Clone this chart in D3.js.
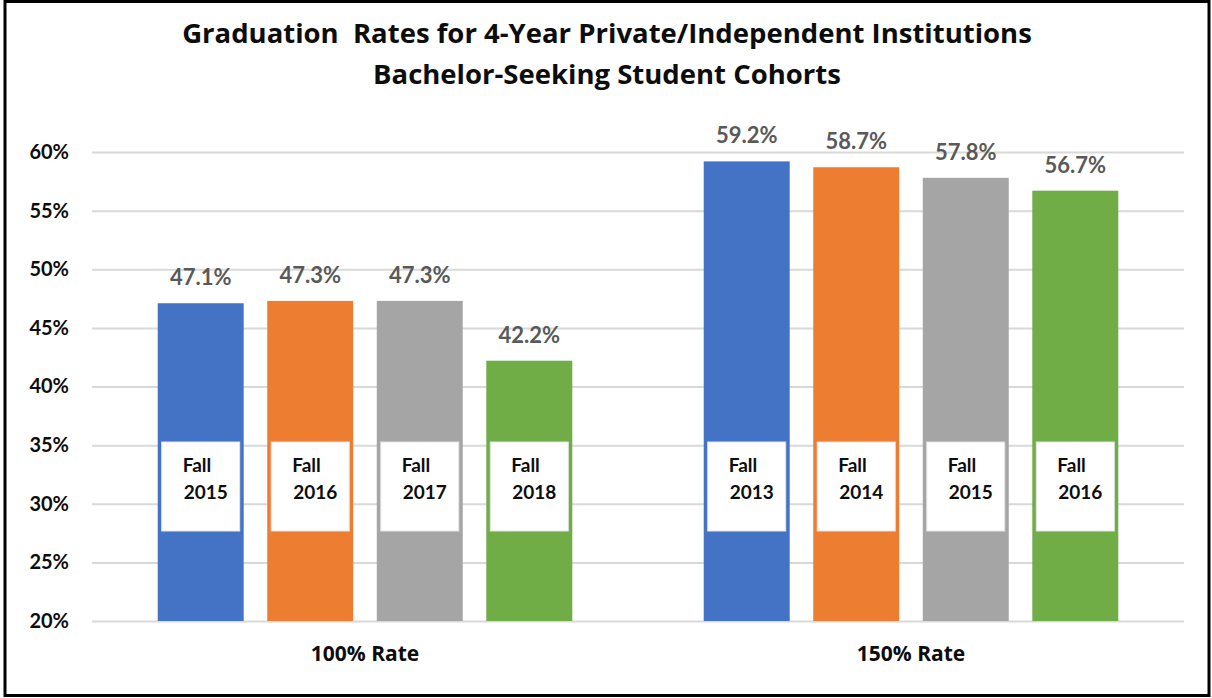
<!DOCTYPE html>
<html>
<head>
<meta charset="utf-8">
<script src="https://cdn.jsdelivr.net/npm/d3@7"></script>
<style>
  body { margin: 0; background: #fff; }
  svg { display: block; font-family: Lato, "Open Sans", sans-serif; }
  .title { white-space: pre; }
</style>
</head>
<body>
<svg id="chart" width="1212" height="698"></svg>
<script>
// data
let groups = ['100% Rate', '150% Rate'];
let cohorts100 = ['Fall 2015', 'Fall 2016', 'Fall 2017', 'Fall 2018'];
let values100 = [47.1, 47.3, 47.3, 42.2];
let cohorts150 = ['Fall 2013', 'Fall 2014', 'Fall 2015', 'Fall 2016'];
let values150 = [59.2, 58.7, 57.8, 56.7];
let yTicks = [20, 25, 30, 35, 40, 45, 50, 55, 60];
let colors = ['#4472C4', '#ED7D31', '#A5A5A5', '#70AD47'];

let rows = [
  { group: groups[0], cohorts: cohorts100, values: values100 },
  { group: groups[1], cohorts: cohorts150, values: values150 }
];

let svg = d3.select('#chart');
let plotLeft = 92, plotRight = 1184, plotTop = 152, plotBottom = 621;

// border round the whole chart
svg.append('rect')
  .attr('x', 5).attr('y', 1.5)
  .attr('width', 1204).attr('height', 694)
  .attr('fill', 'none').attr('stroke', '#000').attr('stroke-width', 3);

// title
let title = svg.append('text')
  .attr('class', 'title')
  .attr('text-anchor', 'middle')
  .attr('font-family', '"Open Sans", sans-serif')
  .attr('font-weight', 'bold')
  .attr('font-size', 27.5)
  .attr('fill', '#0d0d0d');
title.append('tspan').attr('x', 607).attr('y', 43)
  .text('Graduation  Rates for 4-Year Private/Independent Institutions');
title.append('tspan').attr('x', 607).attr('y', 84)
  .text('Bachelor-Seeking Student Cohorts');

let y = d3.scaleLinear().domain([20, 60]).range([plotBottom, plotTop]);
let x0 = d3.scaleBand().domain(groups).range([plotLeft, plotRight]);
let x1 = d3.scaleBand().domain(d3.range(4)).range([0, x0.bandwidth()])
  .paddingInner(0.215).paddingOuter(0.6);

// y axis with gridlines
let yAxis = svg.append('g')
  .attr('transform', `translate(${plotLeft},0)`)
  .call(d3.axisLeft(y).tickValues(yTicks).tickFormat(d => d + '%')
    .tickSizeInner(-(plotRight - plotLeft)).tickSizeOuter(0).tickPadding(23));
yAxis.select('.domain').remove();
yAxis.selectAll('line').attr('stroke', '#d9d9d9').attr('stroke-width', 2);
yAxis.selectAll('text')
  .attr('font-size', 20).attr('font-weight', 'bold')
  .attr('fill', '#0d0d0d').attr('font-family', 'Lato, sans-serif');

// x axis: group names only
let xAxis = svg.append('g')
  .attr('transform', `translate(0,${plotBottom})`)
  .call(d3.axisBottom(x0).tickSize(0).tickPadding(25));
xAxis.select('.domain').remove();
xAxis.selectAll('text')
  .attr('font-size', 21).attr('font-weight', 'bold')
  .attr('fill', '#0d0d0d').attr('font-family', '"Open Sans", sans-serif');

let groupG = svg.selectAll('.grp')
  .data(rows)
  .enter()
  .append('g')
  .attr('class', 'grp')
  .attr('transform', d => `translate(${x0(d.group)},0)`);

let bars = groupG.selectAll('.bar')
  .data(d => d.values.map((v, i) => ({ v: v, i: i, cohort: d.cohorts[i] })))
  .enter()
  .append('g')
  .attr('class', 'bar');

bars.append('rect')
  .attr('x', d => x1(d.i))
  .attr('y', d => y(d.v))
  .attr('width', x1.bandwidth())
  .attr('height', d => plotBottom - y(d.v))
  .attr('fill', d => colors[d.i]);

// value labels above the bars
bars.append('text')
  .attr('x', d => x1(d.i) + x1.bandwidth() / 2)
  .attr('y', d => y(d.v) - 18)
  .attr('text-anchor', 'middle')
  .attr('font-size', 22)
  .attr('font-weight', 'bold')
  .attr('fill', '#595959')
  .text(d => d.v.toFixed(1) + '%');

// white cohort boxes
let boxW = 78, boxTop = 442, boxH = 89;
bars.append('rect')
  .attr('x', d => x1(d.i) + x1.bandwidth() / 2 - boxW / 2)
  .attr('y', boxTop)
  .attr('width', boxW)
  .attr('height', boxH)
  .attr('fill', '#fff')
  .attr('stroke', '#e4e4e4')
  .attr('stroke-width', 1);

let boxText = bars.append('text')
  .attr('font-size', 19)
  .attr('font-weight', 'bold')
  .attr('fill', '#0d0d0d');
boxText.append('tspan')
  .attr('x', d => x1(d.i) + x1.bandwidth() / 2 - boxW / 2 + 21)
  .attr('y', boxTop + 30)
  .text(d => d.cohort.split(' ')[0]);
boxText.append('tspan')
  .attr('x', d => x1(d.i) + x1.bandwidth() / 2 - boxW / 2 + 22)
  .attr('y', boxTop + 57)
  .text(d => d.cohort.split(' ')[1]);
</script>
</body>
</html>
